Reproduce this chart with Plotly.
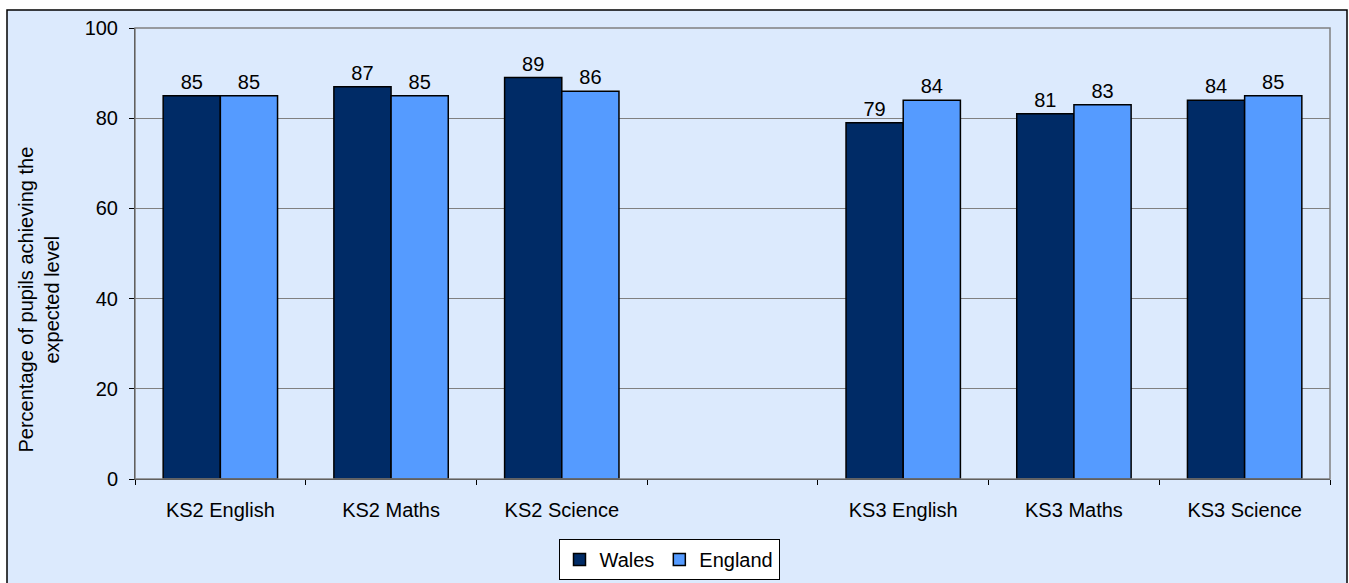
import plotly.graph_objects as go

categories = ["KS2 English", "KS2 Maths", "KS2 Science", " ", "KS3 English", "KS3 Maths", "KS3 Science"]
wales = [85, 87, 89, None, 79, 81, 84]
england = [85, 85, 86, None, 84, 83, 85]
y_ticks = [0, 20, 40, 60, 80, 100]

W, H = 1349, 583
L, R, T, B = 135, 1330, 28, 479
pw, ph = R - L, B - T

def px(x):
    return (x - L) / pw

def py(y):
    return (B - y) / ph

FONT = "Arial, Liberation Sans, sans-serif"

def lbl(v):
    return [("" if x is None else str(x)) for x in v]

fig = go.Figure()
fig.add_trace(go.Bar(
    name="Wales", x=categories, y=wales, text=lbl(wales), textposition="outside",
    marker=dict(color="#002B66", line=dict(color="#000000", width=1.5)),
    textfont=dict(size=20, color="#000000", family=FONT), cliponaxis=False,
))
fig.add_trace(go.Bar(
    name="England", x=categories, y=england, text=lbl(england), textposition="outside",
    marker=dict(color="#559BFF", line=dict(color="#000000", width=1.5)),
    textfont=dict(size=20, color="#000000", family=FONT), cliponaxis=False,
))

fig.update_layout(
    width=W, height=H,
    margin=dict(l=L, r=W - R, t=T, b=H - B, pad=0, autoexpand=False),
    paper_bgcolor="#FFFFFF",
    plot_bgcolor="#FFFFFF",
    font=dict(family=FONT, size=20, color="#000000"),
    barmode="group", bargap=0.33, bargroupgap=0,
    showlegend=True,
    legend=dict(
        orientation="h", xref="container", yref="container",
        x=669 / W, xanchor="center", y=1 - 539 / H, yanchor="top",
        bgcolor="#FFFFFF", bordercolor="#000000", borderwidth=1,
        font=dict(size=20, family=FONT), itemwidth=30, traceorder="normal",
    ),
    xaxis=dict(
        type="category", showline=True, linecolor="#000000", linewidth=1,
        ticks="outside", ticklen=5, tickcolor="#000000", tickson="boundaries",
        showgrid=False, tickfont=dict(size=20), fixedrange=True, ticklabelstandoff=13,
        automargin=False,
    ),
    yaxis=dict(
        range=[0, 100], tickvals=y_ticks, showline=True, linecolor="#000000", linewidth=1,
        ticks="outside", ticklen=5, tickcolor="#000000",
        showgrid=True, gridcolor="#808080", gridwidth=1,
        zeroline=False, tickfont=dict(size=20), ticklabelstandoff=7, automargin=False,
    ),
    shapes=[
        dict(type="rect", xref="paper", yref="paper", x0=px(7), x1=px(1347), y0=py(600), y1=py(10),
             fillcolor="#DCEAFD", line=dict(color="#000000", width=1.5), layer="below"),
        dict(type="rect", xref="paper", yref="paper", x0=0, x1=1, y0=0, y1=1,
             line=dict(color="#808080", width=1.5), layer="above"),
    ],
    annotations=[
        dict(text="Percentage of pupils achieving the<br>expected level", xref="paper", yref="paper",
             x=px(38.5), y=py(300), textangle=-90, showarrow=False, xanchor="center", yanchor="middle",
             font=dict(size=20, family=FONT)),
    ],
)

fig.write_html("out.html", config={"displayModeBar": False},
               post_script="document.body.style.margin='0';document.body.style.overflow='hidden';")
